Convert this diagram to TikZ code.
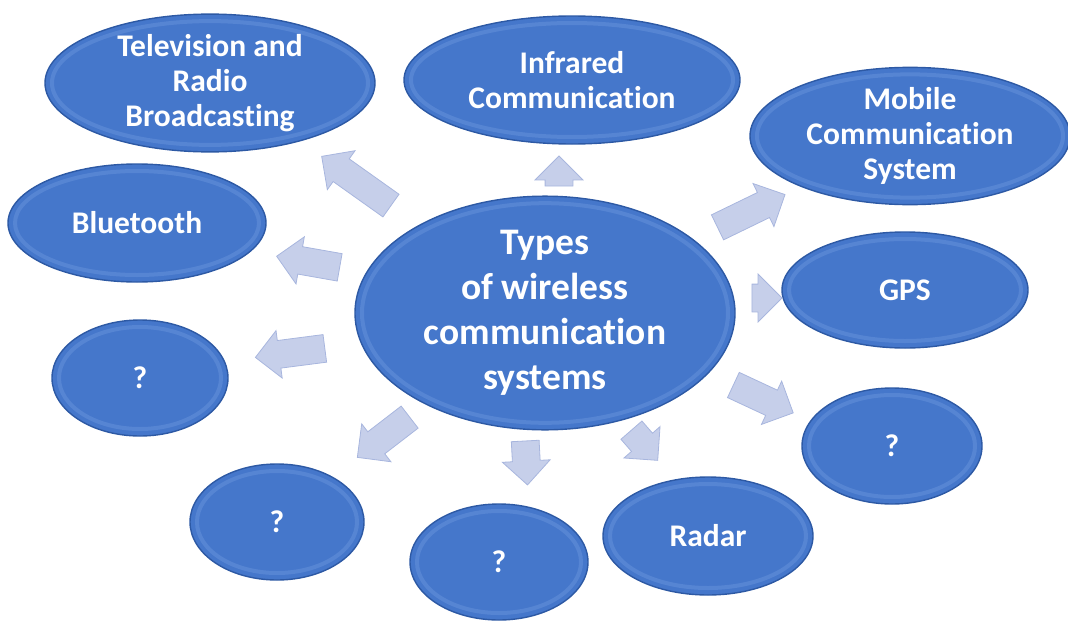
\documentclass[tikz,border=0pt]{standalone}
\usepackage{fontspec}
\setmainfont{Carlito}[Ligatures={NoCommon,NoRequired,NoContextual}]
\usepackage{tikz}
\usetikzlibrary{shapes.geometric,shapes.arrows,calc}
\definecolor{ovalc}{HTML}{4577CB}
\definecolor{ovalrim}{HTML}{7FA6E6}
\definecolor{ovaledge}{HTML}{2D59A4}
\definecolor{arrc}{HTML}{C6CFEA}
\definecolor{arredge}{HTML}{A8B6DE}
\tikzset{
  oval/.style={ellipse, draw=ovaledge, line width=1.4pt, fill=ovalc,
               text=white, align=center, inner sep=0pt, font=\bfseries\fontsize{31.5}{35}\selectfont,
               path picture={
                 \path let \p1=(path picture bounding box.north east),
                           \p2=(path picture bounding box.center) in
                   (\p2) [draw=ovalrim, line width=4pt, opacity=0.3]
                   ellipse [x radius=\x1-\x2-7pt, y radius=\y1-\y2-7pt];
               }},
  bigoval/.style={oval, font=\bfseries\fontsize{37.5}{45}\selectfont},
  blockarr/.style={single arrow, draw=arredge, fill=arrc, line width=0.8pt, inner sep=0pt,
                   inner ysep=13.5pt, single arrow head extend=10pt, single arrow head indent=0pt},
}

\begin{document}
\begin{tikzpicture}[x=1pt, y=-1pt]
  \useasboundingbox (0,0) rectangle (1068,621);

  % centre
  \node[bigoval, minimum width=380pt, minimum height=198pt] (types) at (545,313)
    {Types\\of wireless\\communication\\systems};

  % outer ovals
  \node[oval, minimum width=330pt, minimum height=128pt] (tv) at (210,83)
    {Television and\\Radio\\Broadcasting};
  \node[oval, minimum width=336pt, minimum height=128pt] (infra) at (572,80)
    {Infrared\\Communication};
  \node[oval, minimum width=320pt, minimum height=122pt] (mobile) at (910,136)
    {Mobile\\Communication\\System};
  \node[oval, minimum width=258pt, minimum height=118pt] (blue) at (137,223) {Bluetooth};
  \node[oval, minimum width=246pt, minimum height=116pt] (gps) at (905,290) {GPS};
  \node[oval, minimum width=176pt, minimum height=116pt] (qleft) at (140,378) {?};
  \node[oval, minimum width=180pt, minimum height=116pt] (qright) at (892,446) {?};
  \node[oval, minimum width=174pt, minimum height=116pt] (qbl) at (277,522) {?};
  \node[oval, minimum width=178pt, minimum height=116pt] (qbot) at (499,562) {?};
  \node[oval, minimum width=210pt, minimum height=118pt] (radar) at (708,536) {Radar};

  % block arrows
  \node[blockarr, minimum height=85pt, rotate=144.6] (atv) at (362,185) {};
  \node[blockarr, minimum height=30pt, rotate=90] (ainfra) at (559,178) {};
  \node[blockarr, minimum height=75pt, rotate=25.9] (amobile) at (745,214) {};
  \node[blockarr, minimum height=64pt, rotate=170] (ablue) at (315,263) {};
  \node[blockarr, minimum height=30pt, rotate=0] (agps) at (760,298) {};
  \node[blockarr, minimum height=70pt, rotate=187.4] (aqleft) at (297,352) {};
  \node[blockarr, minimum height=66pt, rotate=-25] (aqright) at (757,396) {};
  \node[blockarr, minimum height=66pt, rotate=217.6] (aqbl) at (389,433) {};
  \node[blockarr, minimum height=44pt, rotate=-87] (aqbot) at (526,456) {};
  \node[blockarr, minimum height=40pt, rotate=-49] (aradar) at (640,440) {};
\end{tikzpicture}
\end{document}
